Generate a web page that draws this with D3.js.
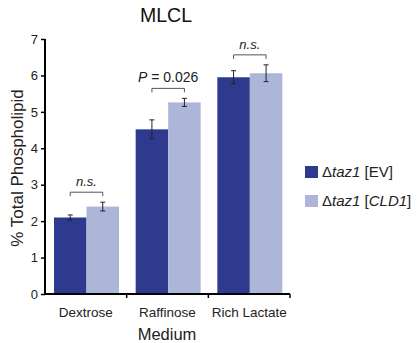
<!DOCTYPE html>
<html><head><meta charset="utf-8">
<script src="https://cdn.jsdelivr.net/npm/d3@7"></script>
<style>body{margin:0;background:#fff}svg{display:block;font-family:"Liberation Sans",Arial,sans-serif}</style>
</head><body><svg id="c" width="420" height="343"></svg>
<script>
const categories = ["Dextrose", "Raffinose", "Rich Lactate"];
const seriesNames = ["EV", "CLD1"];
const evValues = [2.10, 4.52, 5.95];
const evErrors = [0.07, 0.26, 0.18];
const cldValues = [2.40, 5.26, 6.06];
const cldErrors = [0.12, 0.11, 0.23];
const sigLabels = ["n.s.", "P = 0.026", "n.s."];
const yTicks = [0, 1, 2, 3, 4, 5, 6, 7];

const colors = ["#2d3a8e", "#adb6d9"];
const svg = d3.select("#c");
const x0 = 45, x1 = 290, yB = 294, yT = 39;
const x = d3.scaleBand().domain(categories).range([x0, x1]).paddingInner(0).paddingOuter(0);
const xs = d3.scaleBand().domain(seriesNames).range([9, 9 + 65]);
const y = d3.scaleLinear().domain([0, 7]).range([yB, yT]);

const data = categories.map((c, i) => ({c, vals: [
  {s: "EV", v: evValues[i], e: evErrors[i]},
  {s: "CLD1", v: cldValues[i], e: cldErrors[i]}], sig: sigLabels[i]}));

const g = svg.append("g");
data.forEach(d => {
  d.vals.forEach((b, j) => {
    const bx = x(d.c) + xs(b.s);
    g.append("rect").attr("x", bx).attr("y", y(b.v)).attr("width", xs.bandwidth()).attr("height", y(0) - y(b.v)).attr("fill", colors[j]);
    const cx = bx + xs.bandwidth() / 2;
    g.append("line").attr("x1", cx).attr("x2", cx).attr("y1", y(b.v + b.e)).attr("y2", y(b.v - b.e)).attr("stroke", "#222").attr("stroke-width", 1);
    [b.v + b.e, b.v - b.e].forEach(t => g.append("line").attr("x1", cx - 2.5).attr("x2", cx + 2.5).attr("y1", y(t)).attr("y2", y(t)).attr("stroke", "#222").attr("stroke-width", 1));
  });
  const top = d3.max(d.vals, b => b.v + b.e);
  const by = y(top) - 10;
  const lx = x(d.c) + xs("EV") + xs.bandwidth() / 2;
  const rx = x(d.c) + xs("CLD1") + xs.bandwidth() / 2;
  g.append("path").attr("d", `M${lx},${by + 4}V${by}H${rx}V${by + 4}`).attr("fill", "none").attr("stroke", "#555").attr("stroke-width", 1);
  const tx = g.append("text").attr("x", (lx + rx) / 2).attr("y", by - 6).attr("text-anchor", "middle").attr("fill", "#222");
  if (d.sig.startsWith("P")) {
    tx.attr("font-size", 14);
    tx.append("tspan").attr("font-style", "italic").text("P");
    tx.append("tspan").text(" = 0.026");
  } else {
    tx.attr("font-size", 13).attr("font-style", "italic").text(d.sig);
  }
});

const ya = svg.append("g").attr("transform", `translate(${x0},0)`).call(d3.axisLeft(y).tickValues(yTicks).tickSize(4).tickFormat(d3.format("d")));
ya.select(".domain").attr("stroke", "#000").attr("stroke-width", 2).attr("d", `M0,${yT}V${yB}`);
ya.selectAll(".tick line").attr("stroke", "#000").attr("stroke-width", 1.5);
ya.selectAll(".tick text").attr("font-size", 13).attr("fill", "#222").attr("x", -7).attr("font-family", "Liberation Sans, Arial, sans-serif");

const xa = svg.append("g").attr("transform", `translate(0,${yB})`);
xa.append("line").attr("x1", x0).attr("x2", x1).attr("stroke", "#000").attr("stroke-width", 2);
categories.forEach(c => {
  const e = x(c) + x.bandwidth();
  xa.append("line").attr("x1", e).attr("x2", e).attr("y1", 0).attr("y2", 4).attr("stroke", "#000").attr("stroke-width", 1.5);
  xa.append("text").attr("x", x(c) + x.bandwidth() / 2).attr("y", 23).attr("text-anchor", "middle").attr("font-size", 13.5).attr("fill", "#222").text(c);
});

svg.append("text").attr("x", 167).attr("y", 340).attr("text-anchor", "middle").attr("font-size", 16.5).attr("fill", "#222").text("Medium");
svg.append("text").attr("transform", "translate(23,168) rotate(-90)").attr("text-anchor", "middle").attr("font-size", 17).attr("fill", "#222").text("% Total Phospholipid");
svg.append("text").attr("x", 166).attr("y", 22).attr("text-anchor", "middle").attr("font-size", 19.5).attr("fill", "#111").text("MLCL");

const leg = svg.append("g");
seriesNames.forEach((s, i) => {
  const ly = 166 + i * 29;
  leg.append("rect").attr("x", 305).attr("y", ly).attr("width", 13).attr("height", 12).attr("fill", colors[i]);
  const t = leg.append("text").attr("x", 322).attr("y", ly + 11).attr("font-size", 15).attr("fill", "#222");
  t.append("tspan").text("\u0394");
  t.append("tspan").attr("font-style", "italic").text("taz1");
  t.append("tspan").text(" [");
  if (s === "EV") t.append("tspan").text("EV");
  else t.append("tspan").attr("font-style", "italic").text("CLD1");
  t.append("tspan").text("]");
});
</script></body></html>
